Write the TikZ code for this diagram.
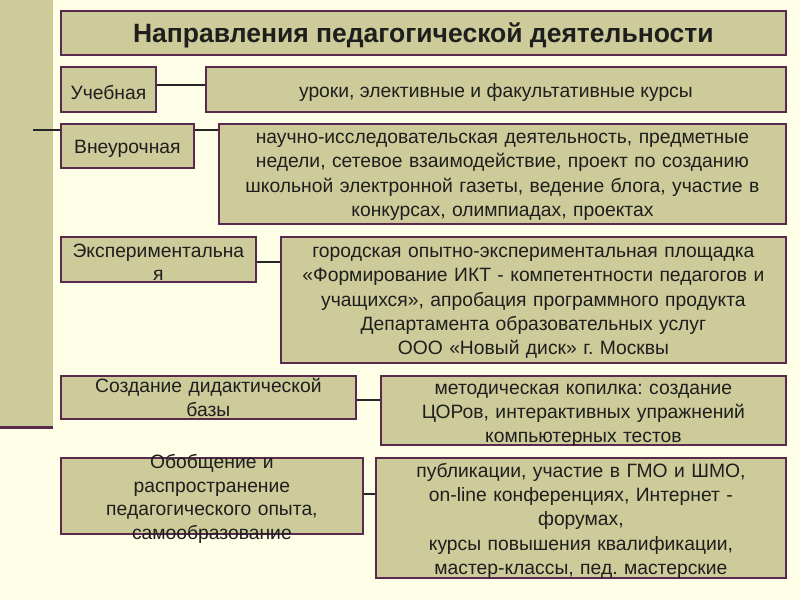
\documentclass[tikz,border=0pt]{standalone}
\usepackage{fontspec}
\setmainfont{Liberation Sans}
\frenchspacing
\definecolor{bg}{HTML}{FFFEE6}
\definecolor{olive}{HTML}{CCCB99}
\definecolor{edge}{HTML}{5A2A4E}
\definecolor{ink}{HTML}{1E1E1E}
\tikzset{
  box/.style={draw=edge, line width=1.8pt, fill=olive, anchor=north west, inner sep=0pt},
  txt/.style={text=ink, align=center, font=\fontsize{19.3}{24.4}\selectfont, inner sep=0pt, yshift=-3pt},
  conn/.style={draw=black!85, line width=1.6pt},
}
\begin{document}
\frenchspacing
\begin{tikzpicture}[x=1pt,y=-1pt]
\fill[bg] (0,0) rectangle (800,600);
\useasboundingbox (0,0) rectangle (800,600);
% left band
\fill[olive] (0,0) rectangle (53,427);
\draw[edge, line width=3pt] (0,427) -- (53,427);

% title
\node[box, minimum width=725pt, minimum height=44pt] (title) at (60,10) {};
\node[txt, font=\fontsize{26.5}{30}\selectfont\bfseries, yshift=1pt] at (title.center) {Направления педагогической деятельности};

% row 1
\node[box, minimum width=95pt, minimum height=45pt] (ucheb) at (60,66) {};
\node[txt] at (ucheb.center) {Учебная};
\node[box, minimum width=580pt, minimum height=45pt] (uroki) at (205,66) {};
\node[txt] at (uroki.center) {уроки, элективные и факультативные курсы};
\draw[conn] (ucheb.east |- 0,85) -- (uroki.west |- 0,85);

% row 2
\node[box, minimum width=133pt, minimum height=44pt] (vneur) at (60,123) {};
\node[txt] at (vneur.center) {Внеурочная};
\node[box, minimum width=567pt, minimum height=100pt] (nauch) at (218,123) {};
\node[txt, text width=600pt] at (nauch.center) {научно-исследовательская деятельность, предметные\\недели, сетевое взаимодействие, проект по созданию\\школьной электронной газеты, ведение блога, участие в\\конкурсах, олимпиадах, проектах};
\draw[conn] (vneur.east |- 0,130) -- (nauch.west |- 0,130);
\coordinate (bandpt) at (33,130);
\draw[conn] (bandpt) -- (vneur.west |- bandpt);

% row 3
\node[box, minimum width=195pt, minimum height=45pt] (exper) at (60,236) {};
\node[txt, text width=220pt, font=\fontsize{19.3}{23}\selectfont] at (exper.center) {Экспериментальна\\я};
\node[box, minimum width=505pt, minimum height=126pt] (gor) at (280,236) {};
\node[txt, text width=540pt] at (gor.center) {городская опытно-экспериментальная площадка\\«Формирование ИКТ - компетентности педагогов и\\учащихся», апробация программного продукта\\Департамента образовательных услуг\\ООО «Новый диск» г. Москвы};
\draw[conn] (exper.east |- 0,262) -- (gor.west |- 0,262);

% row 4
\node[box, minimum width=295pt, minimum height=43pt] (sozd) at (60,375) {};
\node[txt, text width=300pt, font=\fontsize{19.3}{23.5}\selectfont, yshift=3pt] at (sozd.center) {Создание дидактической\\базы};
\node[box, minimum width=405pt, minimum height=69pt] (metod) at (380,375) {};
\node[txt, text width=420pt, font=\fontsize{19.3}{24}\selectfont, yshift=-2pt] at (metod.center) {методическая копилка: создание\\ЦОРов, интерактивных упражнений\\компьютерных тестов};
\draw[conn] (sozd.east |- 0,400) -- (metod.west |- 0,400);

% row 5
\node[box, minimum width=302pt, minimum height=76pt] (obob) at (60,457) {};
\node[txt, text width=320pt, font=\fontsize{19.3}{23.5}\selectfont] at (obob.center) {Обобщение и\\распространение\\педагогического опыта,\\самообразование};
\node[box, minimum width=410pt, minimum height=120pt] (publ) at (375,457) {};
\node[txt, text width=420pt] at (publ.center) {публикации, участие в ГМО и ШМО,\\on-line конференциях, Интернет -\\форумах,\\курсы повышения квалификации,\\мастер-классы, пед. мастерские};
\draw[conn] (obob.east |- 0,494) -- (publ.west |- 0,494);
\end{tikzpicture}
\end{document}
